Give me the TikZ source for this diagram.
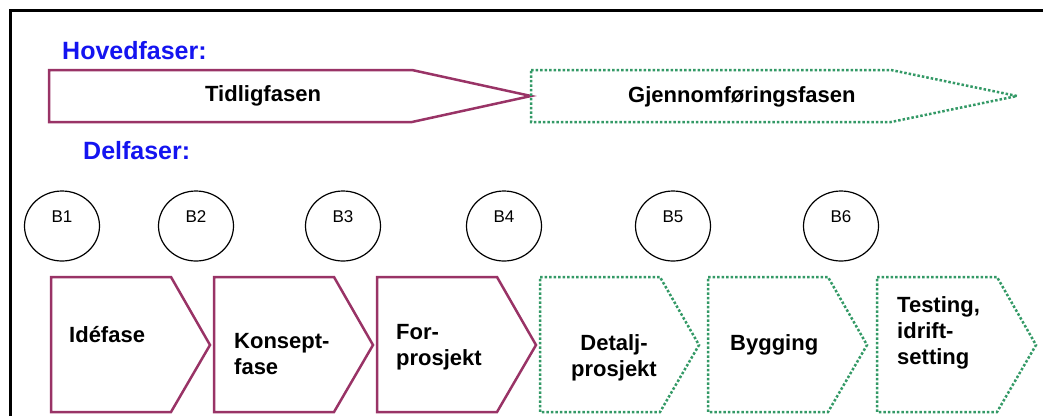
\documentclass[tikz,border=0pt]{standalone}
\usepackage{fontspec}
\setmainfont{Liberation Sans}
\definecolor{fase-lilla}{RGB}{153,51,102}
\definecolor{fase-gronn}{RGB}{51,153,102}
\definecolor{fase-bla}{RGB}{20,20,240}
\usetikzlibrary{shapes.geometric}
\usetikzlibrary{positioning}

\begin{document}
\begin{tikzpicture}[%
            x=1pt,y=-1pt,
            tidlig/.style={draw=fase-lilla,line width=2.5pt,line join=miter},
            gjennom/.style={draw=fase-gronn,line width=2.5pt,dash pattern=on 2.5pt off 2pt},
            milepel/.style={draw,ellipse,line width=1.2pt,minimum width=75pt,minimum height=70pt,inner sep=0pt},
            overskrift/.style={font=\fontsize{25}{30}\selectfont\bfseries,text=fase-bla,inner sep=0pt},
            fasetekst/.style={font=\fontsize{22}{26}\selectfont\bfseries,inner sep=0pt,align=left}
          ]
            \useasboundingbox (0,0) rectangle (1043,416);
            \draw [line width=3pt] (10,416) -- (10,10) -- (1043,10);

            \node [overskrift,anchor=base west] (hovedfaser) at (62,59) {Hovedfaser:};
            \node [overskrift,anchor=base west] (delfaser) at (83,159) {Delfaser:};

            % hovedfaser
            \draw [tidlig] (49,70) -- (412,70) -- (531,96) -- (412,122) -- (49,122) -- cycle;
            \draw [gjennom] (531,70) -- (891,70) -- (1017,96) -- (891,122) -- (531,122) -- cycle;
            \node [fasetekst,anchor=base west] (tidlig) at (205,101) {Tidligfasen};
            \node [fasetekst,anchor=base west] (gjennom) at (628,102) {Gjennomføringsfasen};

            % beslutningspunkter
            \foreach \x [count=\i] in {62,196,343,504,673,841} {%
              \node [milepel] (b\i) at (\x,226) {};
              \node [font=\fontsize{17}{20}\selectfont,anchor=base,inner sep=0pt] (b\i-tekst)
                at ([yshift=4pt]b\i.center) {B\i};
            }

            % delfaser
            \foreach \x/\stil in {51/tidlig,214/tidlig,377/tidlig,540/gjennom,708/gjennom,877/gjennom}
              \draw [\stil] (\x,277) -- ++(120,0) -- ++(39,68) -- ++(-39,67) -- ++(-120,0) -- cycle;
            \node [fasetekst,anchor=base west] (idefase) at (69,342) {Idéfase};
            \node [fasetekst,anchor=north west] (konsept) at (234,333) {Konsept-\\fase};
            \node [fasetekst,anchor=north west] (forprosjekt) at (396,324) {For-\\prosjekt};
            \node [fasetekst,anchor=north,align=center] (detalj) at (614,334) {Detalj-\\prosjekt};
            \node [fasetekst,anchor=base west] (bygging) at (730,350) {Bygging};
            \node [fasetekst,anchor=north west] (testing) at (897,296) {Testing,\\idrift-\\setting};
          \end{tikzpicture}
\end{document}
